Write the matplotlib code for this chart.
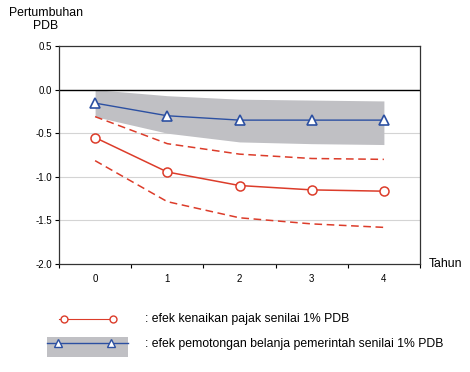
import numpy as np
import matplotlib

matplotlib.use("Agg")
import matplotlib.pyplot as plt

plt.rcParams["font.family"] = ["Liberation Sans", "DejaVu Sans"]

# Data
years = [0, 1, 2, 3, 4]
tax_mid = [-0.55, -0.945, -1.10, -1.15, -1.165]
tax_upper = [-0.31, -0.62, -0.74, -0.79, -0.80]
tax_lower = [-0.815, -1.285, -1.47, -1.54, -1.58]
spend_mid = [-0.155, -0.30, -0.35, -0.35, -0.35]
spend_upper = [0.0, -0.07, -0.11, -0.12, -0.13]
spend_lower = [-0.31, -0.50, -0.60, -0.62, -0.63]
yticks = [0.5, 0.0, -0.5, -1.0, -1.5, -2.0]

RED = "#dc3c2a"
BLUE = "#2c50a2"
GRAY = "#c0c0c4"

W, H = 470, 372
fig = plt.figure(figsize=(W / 100, H / 100), dpi=100)
ax = fig.add_axes([59 / W, 1 - 264 / H, (420 - 59) / W, (264 - 46) / H])

ax.fill_between(years, spend_lower, spend_upper, color=GRAY, lw=0, zorder=1)
for y in yticks[2:5]:
    ax.axhline(y, color="#d4d4d4", lw=0.8, zorder=0)
ax.axhline(0.0, color="black", lw=1.0, zorder=2)

ax.plot(years, tax_upper, color=RED, lw=1.1, ls=(0, (5, 3)), zorder=3)
ax.plot(years, tax_lower, color=RED, lw=1.1, ls=(0, (5, 3)), zorder=3)
ax.plot(years, tax_mid, color=RED, lw=1.1, marker="o", ms=6.5,
        mfc="white", mec=RED, mew=1.1, zorder=4)
ax.plot(years, spend_mid, color=BLUE, lw=1.0, marker="^", ms=7.5,
        mfc="white", mec=BLUE, mew=1.2, zorder=5)

ax.set_xlim(-0.5, 4.5)
ax.set_ylim(-2.0, 0.5)
ax.set_yticks(yticks)
ax.set_yticklabels([f"{v:.1f}" for v in yticks])
ax.set_xticks(np.arange(-0.5, 4.6, 1.0))
ax.set_xticklabels([])
ax.set_xticks(years, minor=True)
ax.set_xticklabels([str(y) for y in years], minor=True)
ax.tick_params(axis="x", which="minor", length=0, pad=7, labelsize=7)
ax.tick_params(axis="x", which="major", length=3, width=0.8, direction="out")
ax.tick_params(axis="y", length=3, width=0.8, labelsize=7, pad=2)
for s in ax.spines.values():
    s.set_linewidth(0.9)
    s.set_color("#333333")

fig.text(46 / W, 1 - 13 / H, "Pertumbuhan", ha="center", va="center",
         fontsize=8.8)
fig.text(46 / W, 1 - 26 / H, "PDB", ha="center", va="center", fontsize=8.8)
fig.text(429 / W, 1 - 264 / H, "Tahun", ha="left", va="center", fontsize=8.8)

# Legend drawn in pixel coordinates
lg = fig.add_axes([0, 0, 1, 1], zorder=-1)
lg.set_xlim(0, W)
lg.set_ylim(H, 0)
lg.axis("off")
lg.plot([59, 115], [319, 319], color=RED, lw=0.8)
lg.plot([64, 113], [319, 319], ls="none", marker="o", ms=5, mfc="white",
        mec=RED, mew=1.0)
lg.fill_between([47, 128], 337, 357, color=GRAY, lw=0)
lg.plot([47, 128], [343, 343], color=BLUE, lw=1.0)
lg.plot([58, 111], [343, 343], ls="none", marker="^", ms=6, mfc="white",
        mec=BLUE, mew=1.0)
lg.text(145, 319, ": efek kenaikan pajak senilai 1% PDB", va="center",
        fontsize=8.8)
lg.text(145, 344, ": efek pemotongan belanja pemerintah senilai 1% PDB",
        va="center", fontsize=8.8)

fig.savefig("out.png", dpi=100)
